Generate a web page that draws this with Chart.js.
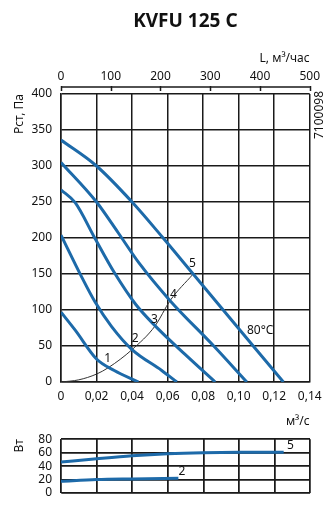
<!DOCTYPE html>
<html>
<head>
<meta charset="utf-8">
<script src="https://cdn.jsdelivr.net/npm/chart.js@4.4.0/dist/chart.umd.min.js"></script>
<style>
  html, body { margin: 0; padding: 0; background: #fff; }
  #wrap { position: relative; width: 330px; height: 510px; }
  canvas { position: absolute; left: 0; }
</style>
</head>
<body>
<div id="wrap">
  <canvas id="pressureChart" width="330" height="430" style="top:0"></canvas>
  <canvas id="powerChart" width="330" height="87" style="top:423px"></canvas>
</div>
<script>
// ====== Datos ======
const SPEEDS = ["1", "2", "3", "4", "5"];

// caudal (m3/s) y presión estática (Pa) por velocidad
const Q1 = [0, 0.008, 0.02, 0.03, 0.0436];
const P1 = [97, 72, 32, 16, 0];
const Q2 = [0, 0.0116, 0.0192, 0.0285, 0.04, 0.0567, 0.0652];
const P2 = [204, 146, 111, 77, 45, 16, 0];
const Q3 = [0, 0.008, 0.019, 0.03, 0.042, 0.053, 0.07, 0.0868];
const P3 = [267, 249, 200, 152, 108, 78, 38, 0];
const Q4 = [0, 0.02, 0.032, 0.044, 0.0614, 0.086, 0.1046];
const P4 = [305, 250, 208, 165, 113, 50, 0];
const Q5 = [0, 0.02, 0.04, 0.0575, 0.0744, 0.0913, 0.1082, 0.1252];
const P5 = [336, 300, 250, 200, 150, 100, 50, 0];

// curva de la red (línea fina)
const SYS_Q = [0, 0.01, 0.02, 0.0267, 0.04, 0.053, 0.0614, 0.0744];
const SYS_P = [0, 3, 11, 20, 45, 78, 113, 150];

// potencia (W)
const POW5_Q = [0, 0.02, 0.04, 0.06, 0.08, 0.1, 0.1252];
const POW5_W = [46, 51, 55.5, 58.5, 60, 60.5, 60.5];
const POW2_Q = [0, 0.02, 0.04, 0.066];
const POW2_W = [17.5, 20, 21, 22];

// ticks
const Q_TICKS = [0, 0.02, 0.04, 0.06, 0.08, 0.10, 0.12, 0.14];
const L_TICKS = [0, 100, 200, 300, 400, 500];
const P_TICKS = [0, 50, 100, 150, 200, 250, 300, 350, 400];
const W_TICKS = [0, 20, 40, 60, 80];

// etiquetas de las curvas (coordenadas de datos)
const PRESSURE_MARKS = [
  { text: "1", x: 0.0263, y: 33 },
  { text: "2", x: 0.0417, y: 61 },
  { text: "3", x: 0.0526, y: 87 },
  { text: "4", x: 0.0633, y: 122 },
  { text: "5", x: 0.074, y: 165 },
  { text: "80°C", x: 0.1121, y: 71 }
];
const POWER_MARKS = [
  { text: "5", x: 0.129, y: 71 },
  { text: "2", x: 0.068, y: 32 }
];

// =======================
// ESTILOS
// =======================
const BLUE = "#1d6aa9";
const GRID = "#1a1a1a";
Chart.defaults.font.family = "'Noto Sans', sans-serif";
Chart.defaults.font.size = 12;
Chart.defaults.color = "#111";

const toPoints = (q, v) => q.map((x, i) => ({ x, y: v[i] }));
const fmtQ = v => (v === 0 ? "0" : v.toFixed(2).replace(".", ","));
const setTicks = list => scale => { scale.ticks = list.map(v => ({ value: v })); };
const align = (px, w) => Math.round(px - w / 2) + w / 2;

// textos sobre las curvas
const markPlugin = {
  id: "marks",
  afterDatasetsDraw(chart, args, opts) {
    const { ctx, scales } = chart;
    ctx.save();
    ctx.font = "12px 'Noto Sans', sans-serif";
    ctx.fillStyle = "#111";
    ctx.textAlign = "center";
    ctx.textBaseline = "middle";
    opts.items.forEach(m => {
      ctx.fillText(m.text, scales.x.getPixelForValue(m.x), scales.y.getPixelForValue(m.y));
    });
    ctx.restore();
  }
};

// rejilla del gráfico de potencia (la del eje no aparecía)
const powerGrid = {
  id: "powerGrid",
  beforeDatasetsDraw(chart) {
    const { ctx, chartArea: a, scales: { x, y } } = chart;
    ctx.save();
    ctx.strokeStyle = GRID;
    ctx.lineWidth = 1.5;
    ctx.beginPath();
    Q_TICKS.forEach(v => {
      const px = align(x.getPixelForValue(v), 1.5);
      ctx.moveTo(px, a.top);
      ctx.lineTo(px, a.bottom);
    });
    W_TICKS.forEach(v => {
      const py = align(y.getPixelForValue(v), 1.5);
      ctx.moveTo(a.left, py);
      ctx.lineTo(a.right, py);
    });
    ctx.stroke();
    ctx.restore();
  }
};

// título, eje superior y código lateral
const decorPlugin = {
  id: "decor",
  afterDraw(chart) {
    const { ctx, chartArea, scales } = chart;
    const top = scales.x2;
    ctx.save();
    ctx.fillStyle = "#111";
    ctx.textAlign = "center";
    ctx.textBaseline = "middle";
    ctx.font = "bold 19px 'Noto Sans', sans-serif";
    ctx.fillText("KVFU 125 C", (chartArea.left + chartArea.right) / 2, 22);

    // línea del eje L
    const yLine = chartArea.top - 7;
    ctx.strokeStyle = GRID;
    ctx.lineWidth = 1.5;
    ctx.beginPath();
    ctx.moveTo(top.getPixelForValue(0), yLine);
    ctx.lineTo(top.getPixelForValue(500), yLine);
    L_TICKS.forEach(v => {
      const px = Math.round(top.getPixelForValue(v)) + 0.5;
      ctx.moveTo(px, yLine - 1);
      ctx.lineTo(px, yLine + 4);
    });
    ctx.stroke();

    ctx.font = "12px 'Noto Sans', sans-serif";
    ctx.translate(chartArea.right + 10, chartArea.top + 21);
    ctx.rotate(-Math.PI / 2);
    ctx.fillText("7100098", 0, 0);
    ctx.restore();
  }
};

// =======================
// GRÁFICO PRESIÓN
// =======================
const curveSets = [[Q1, P1], [Q2, P2], [Q3, P3], [Q4, P4], [Q5, P5]];

new Chart(document.getElementById("pressureChart"), {
  type: "scatter",
  data: {
    datasets: [
      ...curveSets.map(([q, p], i) => ({
        label: SPEEDS[i],
        data: toPoints(q, p),
        borderColor: BLUE,
        borderWidth: 3
      })),
      {
        label: "red",
        data: toPoints(SYS_Q, SYS_P),
        borderColor: "#333",
        borderWidth: 1
      }
    ].map(d => ({ ...d, showLine: true, pointRadius: 0, cubicInterpolationMode: "monotone" }))
  },
  options: {
    responsive: false,
    devicePixelRatio: 1,
    animation: false,
    layout: { padding: { left: 0, right: 20, top: 0, bottom: 0 } },
    plugins: {
      legend: { display: false },
      tooltip: { enabled: false },
      marks: { items: PRESSURE_MARKS }
    },
    scales: {
      x: {
        type: "linear", min: 0, max: 0.14,
        afterBuildTicks: setTicks(Q_TICKS),
        afterFit: s => { s.height = 48; },
        ticks: { callback: fmtQ, padding: 7, maxRotation: 0, autoSkip: false },
        grid: { color: GRID, lineWidth: 1.5, drawTicks: false },
        border: { color: GRID, width: 1.5 },
        title: { display: true, text: "м³/с", align: "end", padding: { top: 0, bottom: 1 } }
      },
      x2: {
        type: "linear", position: "top", min: 0, max: 500,
        afterBuildTicks: setTicks(L_TICKS),
        afterFit: s => { s.height = 94; },
        ticks: { padding: 10, maxRotation: 0, autoSkip: false },
        grid: { drawOnChartArea: false, drawTicks: false },
        border: { display: false },
        title: { display: true, text: "L, м³/час", align: "end", padding: { top: 51, bottom: 0 } }
      },
      y: {
        min: 0, max: 400,
        afterBuildTicks: setTicks(P_TICKS),
        afterFit: s => { s.width = 61; },
        ticks: { padding: 9, autoSkip: false },
        grid: { color: GRID, lineWidth: 1.5, drawTicks: false },
        border: { color: GRID, width: 1.5 },
        title: { display: true, text: "Рст, Па", align: "end", padding: { top: 12, bottom: 0 } }
      }
    }
  },
  plugins: [markPlugin, decorPlugin]
});

// =======================
// GRÁFICO POTENCIA
// =======================
new Chart(document.getElementById("powerChart"), {
  type: "scatter",
  data: {
    datasets: [
      { label: "5", data: toPoints(POW5_Q, POW5_W) },
      { label: "2", data: toPoints(POW2_Q, POW2_W) }
    ].map(d => ({ ...d, showLine: true, pointRadius: 0, borderColor: BLUE, borderWidth: 3, cubicInterpolationMode: "monotone" }))
  },
  options: {
    responsive: false,
    devicePixelRatio: 1,
    animation: false,
    layout: { padding: { left: 0, right: 20, top: 0, bottom: 0 } },
    plugins: {
      legend: { display: false },
      tooltip: { enabled: false },
      marks: { items: POWER_MARKS }
    },
    scales: {
      x: {
        type: "linear", min: 0, max: 0.14,
        afterBuildTicks: setTicks(Q_TICKS),
        afterFit: s => { s.height = 17; },
        ticks: { display: false },
        grid: { color: GRID, lineWidth: 1.5, drawTicks: false }
      },
      y: {
        min: 0, max: 80,
        afterBuildTicks: setTicks(W_TICKS),
        afterFit: s => { s.width = 61; },
        ticks: { padding: 9, autoSkip: false },
        grid: { color: GRID, lineWidth: 1.5, drawTicks: false },
        title: { display: true, text: "Вт", align: "end", padding: { top: 12, bottom: 0 } }
      }
    }
  },
  plugins: [powerGrid, markPlugin]
});
</script>
</body>
</html>
